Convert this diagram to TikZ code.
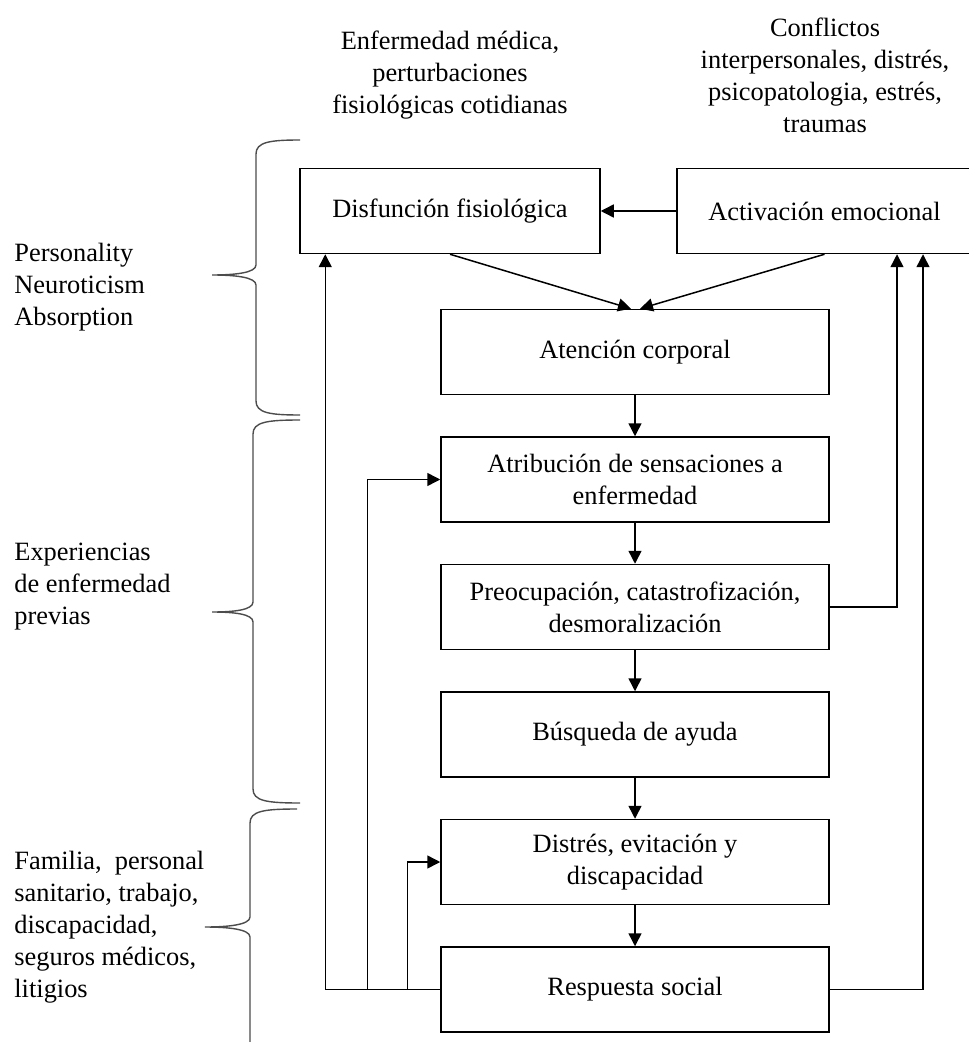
\documentclass[tikz,border=0pt]{standalone}
\usepackage{fontspec}
\setmainfont{Liberation Serif}
\usetikzlibrary{arrows.meta, calc}

% llave: extremo x, lomo x, punta x, y arriba, y punta, y abajo
\newcommand{\llave}[6]{%
  \draw[llavelinea] (#1,#4) .. controls (#2+14,#4) and (#2,#4+2) .. (#2,#4+14)
    -- (#2,#5-10) .. controls (#2,#5-2) and (#3+22,#5) .. (#3,#5)
    .. controls (#3+22,#5) and (#2,#5+2) .. (#2,#5+10)
    -- (#2,#6-14) .. controls (#2,#6-2) and (#2+14,#6) .. (#1,#6);}

\begin{document}
\begin{tikzpicture}[x=0.5pt, y=-0.5pt, node distance=63.75pt,
  >={Triangle[length=6.5pt,width=6.5pt]},
  every node/.style={font=\fontsize{13.2}{16}\selectfont},
  caja/.style={draw=black, line width=0.75pt, minimum height=42.5pt, align=center, inner sep=2pt},
  ancha/.style={caja, minimum width=194pt},
  etiqueta/.style={inner sep=0pt},
  flecha/.style={->, line width=0.75pt},
  llavelinea/.style={draw=black!70, line width=0.7pt}]

\useasboundingbox (0,0) rectangle (968,1042);

\node[caja, minimum width=150pt] (dis) at (450,211) {Disfunción fisiológica};
\node[caja, minimum width=147.5pt] (act) at (824.5,211) {Activación emocional};
\node[ancha] (aten) at (635,352) {Atención corporal};
\node[ancha] (atri) [below of=aten] {Atribución de sensaciones a\\ enfermedad};
\node[ancha] (preo) [below of=atri] {Preocupación, catastrofización,\\ desmoralización};
\node[ancha] (busq) [below of=preo] {Búsqueda de ayuda};
\node[ancha] (distr) [below of=busq] {Distrés, evitación y\\ discapacidad};
\node[ancha] (resp) [below of=distr] {Respuesta social};

\node[etiqueta, align=center] (enf) at (450,75) {Enfermedad médica,\\ perturbaciones\\ fisiológicas cotidianas};
\node[etiqueta, align=center] (conf) at (825,75) {Conflictos\\ interpersonales, distrés,\\ psicopatologia, estrés,\\ traumas};
\node[etiqueta, align=left, anchor=west] (pers) at (14,287) {Personality\\ Neuroticism\\ Absorption};
\node[etiqueta, align=left, anchor=west] (exper) at (14,587) {Experiencias\\ de enfermedad\\ previas};
\node[etiqueta, align=left, anchor=west] (fam) at (14,927) {Familia,\ \ personal\\ sanitario, trabajo,\\ discapacidad,\\ seguros médicos,\\ litigios};

\llave{300}{256}{212}{140}{275}{415}
\llave{300}{253}{212}{420}{612}{803}
\llave{297}{250}{205}{809}{927}{1075}

\draw[flecha] (act.west) -- (dis.east);
\draw[flecha] (dis.south) -- ($(aten.north)+(-4,0)$);
\draw[flecha] (act.south) -- ($(aten.north)+(5,0)$);
\draw[flecha] (aten) -- (atri);
\draw[flecha] (atri) -- (preo);
\draw[flecha] (preo) -- (busq);
\draw[flecha] (busq) -- (distr);
\draw[flecha] (distr) -- (resp);
\draw[flecha] (preo.east) -| ($(act.south)+(72.5,0)$);
\draw[flecha] (resp.east) -| ($(act.south)+(98.5,0)$);
\draw[flecha] (resp.west) -| ($(dis.south west)+(26,0)$);
\draw[flecha] (resp.west) -- ++(-73,0) |- (atri.west);
\draw[flecha] (resp.west) -- ++(-33,0) |- (distr.west);

\end{tikzpicture}
\end{document}
